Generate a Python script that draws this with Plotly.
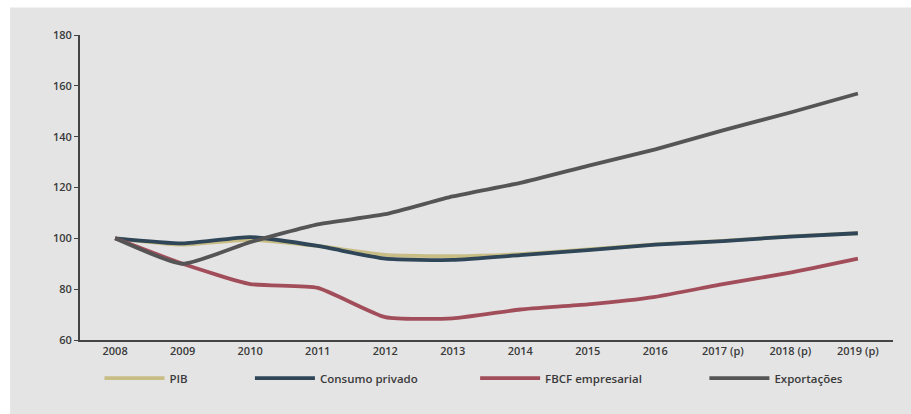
import plotly.graph_objects as go

years = ["2008", "2009", "2010", "2011", "2012", "2013", "2014", "2015", "2016",
         "2017 (p)", "2018 (p)", "2019 (p)"]
pib = [100, 97.5, 99.5, 97, 93.5, 93, 93.8, 95.6, 97.6, 99, 100.8, 102]
consumo = [100, 98, 100.5, 97, 92, 91.5, 93.4, 95.4, 97.5, 98.9, 100.7, 102]
fbcf = [100, 90, 82, 80.5, 69, 68.5, 72, 74, 77, 82, 86.5, 92]
exportacoes = [100, 90, 98.5, 105.5, 109.5, 116.5, 121.8, 128.5, 135, 142.5, 149.5, 157]

names = ["PIB", "Consumo privado", "FBCF empresarial", "Exportações"]
colors = ["#c9bd86", "#2f4658", "#a24e5a", "#555555"]
series = [pib, consumo, fbcf, exportacoes]
legends = ["legend", "legend2", "legend3", "legend4"]
leg_x = [0.024, 0.209, 0.486, 0.768]

fig = go.Figure()
for name, col, vals, lg in zip(names, colors, series, legends):
    fig.add_trace(go.Scatter(
        x=list(range(len(years))), y=vals, name=name, mode="lines",
        line=dict(color=col, width=3.8, shape="spline", smoothing=0.5),
        legend=lg))

fam = "Open Sans, Arial, sans-serif"
font = dict(family=fam, size=11, color="#3a3a3a", weight=600)
leg_common = dict(orientation="h", yanchor="middle", y=-0.125, xanchor="left",
                  bgcolor="rgba(0,0,0,0)", itemwidth=60,
                  font=dict(family=fam, size=11.5, color="#3a3a3a", weight=600))

layout_legends = {}
for lg, lx in zip(legends, leg_x):
    layout_legends[lg] = dict(x=lx, **leg_common)

fig.update_layout(
    width=911, height=414,
    margin=dict(l=80, r=18, t=35, b=74),
    paper_bgcolor="#e4e4e4", plot_bgcolor="#e4e4e4",
    font=font,
    showlegend=True,
    xaxis=dict(tickmode="array", tickvals=list(range(len(years))), ticktext=years,
               range=[-0.52, 11.52], showgrid=False, zeroline=False,
               showline=True, linecolor="#444444", linewidth=2, ticks="",
               tickfont=dict(family=fam, size=11, color="#3a3a3a", weight=600)),
    yaxis=dict(range=[60, 180], tickvals=[60, 80, 100, 120, 140, 160, 180],
               showgrid=False, zeroline=False, showline=True, linecolor="#444444",
               linewidth=2, ticks="outside", ticklen=4, tickcolor="#444444",
               tickfont=dict(family=fam, size=11, color="#3a3a3a", weight=600)),
    shapes=[
        dict(type="rect", xref="paper", yref="paper", x0=-0.2, x1=1.1,
             y0=1.09, y1=1.2, fillcolor="white", line=dict(width=0), layer="below"),
        dict(type="rect", xref="paper", yref="paper", x0=-0.2, x1=-0.086,
             y0=-0.3, y1=1.2, fillcolor="white", line=dict(width=0), layer="below"),
    ],
    **layout_legends,
)

fig.write_html("out.html")
